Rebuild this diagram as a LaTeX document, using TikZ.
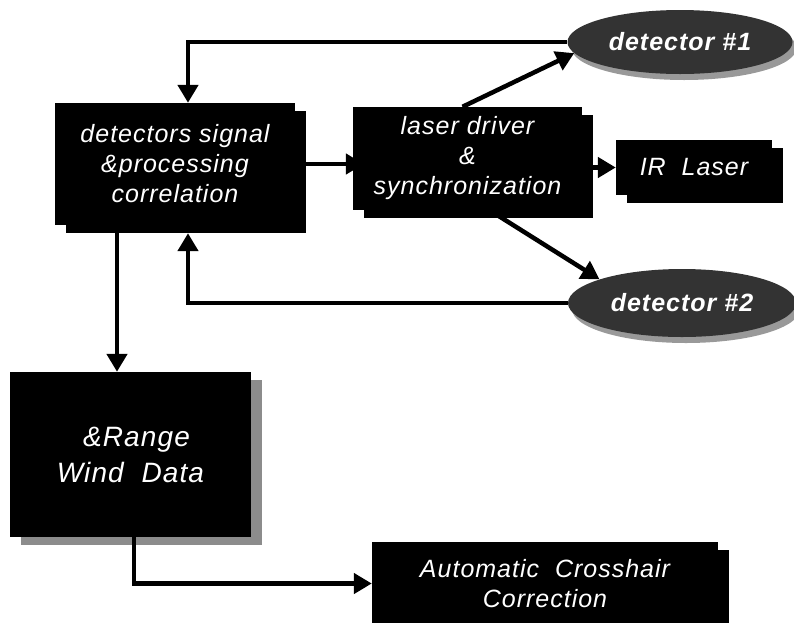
\documentclass[tikz,border=0pt]{standalone}
\usepackage{fontspec}
\newfontfamily\boxfont[LetterSpace=4]{Liberation Sans}
\usetikzlibrary{arrows.meta,positioning,calc,shadows,shapes.geometric}
\tikzset{x=1pt, y=-1pt, % one unit = one pixel of the scan, y downwards
        block/.style={ % black boxes with an offset shadow
            fill=black, text=white,
            align=center, inner sep=0pt,
            font=\boxfont\itshape\fontsize{25}{30}\selectfont,
            drop shadow={shadow xshift=11pt, shadow yshift=-8pt, fill=#1, opacity=1}},
        block/.default=black,
        detector/.style={ % speckled detector ellipses
            ellipse, fill=black!80, text=white, inner sep=0pt,
            font=\boxfont\bfseries\itshape\fontsize{25}{28}\selectfont,
            drop shadow={shadow xshift=4pt, shadow yshift=-6pt, fill=black!40, opacity=1}},
        link/.style={ % thick connectors with big triangular heads
            draw, line width=4.5pt,
            -{Triangle[length=18pt,width=20pt]}}
        }

\begin{document}
\begin{tikzpicture}
    \useasboundingbox (0,0) rectangle (794,622);

    \node[block, minimum width=240pt, minimum height=122pt] (proc) at (175,164) {detectors signal\\\&processing\\correlation};
    \node[block, minimum width=229pt, minimum height=103pt] (driver) at (467.5,158.5) {laser driver\\\&\\synchronization};
    \node[block, minimum width=156pt, minimum height=55pt]  (laser) at (694,167.5) {IR~~Laser};
    \node[block=black!45, minimum width=241pt, minimum height=165pt,
          font=\boxfont\itshape\fontsize{28}{36}\selectfont] (wind) at (130.5,454.5) {\hspace*{12pt}\&Range\\Wind~~Data};
    \node[block, minimum width=346pt, minimum height=83pt]  (auto) at (545,583.5) {Automatic~~Crosshair\\Correction};
    \node[detector, minimum width=225pt, minimum height=64pt] (det1) at (680,42) {detector~\#1};
    \node[detector, minimum width=228pt, minimum height=68pt] (det2) at (682,303) {detector~\#2};

    \coordinate (split) at ([xshift=-58pt,yshift=-8pt]proc.south);

    \draw[link] (det1.west) -| ([xshift=13pt]proc.north);
    \draw[link] ([xshift=11pt]proc.east) -- ([xshift=11pt]proc.east -| driver.west);
    \draw[link] ([xshift=-5pt]driver.north) -- (det1.186);
    \draw[link] ([xshift=10pt]driver.east |- laser.west) -- (laser.west);
    \draw[link] ([xshift=22pt]driver.south) -- (det2.164);
    \draw[link] (det2.west) -| ([xshift=13pt,yshift=-8pt]proc.south);
    \draw[link] (split) -- (split |- wind.north);
    \draw[link] ([xshift=3.5pt]wind.south) |- (auto.west);
\end{tikzpicture}
\end{document}
